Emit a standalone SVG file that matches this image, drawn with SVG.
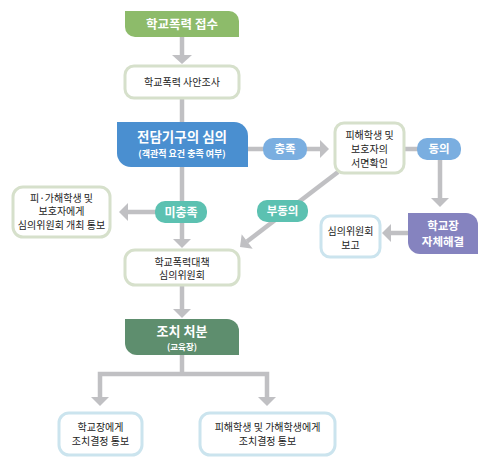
<svg xmlns="http://www.w3.org/2000/svg" width="490" height="469" viewBox="0 0 490 469">
<style>
text{font-family:"Noto Sans CJK KR","Noto Sans",sans-serif;text-anchor:middle}
.t{font-size:10px;fill:#222}
.h{font-weight:bold;fill:#fff}
.box{fill:#fff;stroke-width:3}
.g{stroke:#d6e0cb}
.b{stroke:#cbe4ee}
.ln{fill:none;stroke:#c0c0c3;stroke-width:4.5}
.ah{fill:#c0c0c3}
</style>
<g id="connectors">
<line class="ln" x1="182" y1="37" x2="182" y2="56"/>
<polygon class="ah" points="172,55 192,55 182,64"/>
<line class="ln" x1="182" y1="99" x2="182" y2="123"/>
<line class="ln" x1="182" y1="166" x2="182" y2="240"/>
<polygon class="ah" points="173,239 191,239 182,248"/>
<line class="ln" x1="160" y1="212" x2="127" y2="212"/>
<polygon class="ah" points="128,203 128,221 119,212"/>
<line class="ln" x1="247" y1="149" x2="321" y2="149"/>
<polygon class="ah" points="320,140 320,158 329,149"/>
<polyline class="ln" points="404,149 440,149 440,199"/>
<polygon class="ah" points="431,198 449,198 440,207"/>
<line class="ln" x1="409" y1="233" x2="390" y2="233"/>
<polygon class="ah" points="391,224 391,242 382,233"/>
<line class="ln" x1="338" y1="172" x2="247" y2="241.5"/>
<polygon class="ah" points="240,247 252.7,248.7 241.7,234.3"/>
<line class="ln" x1="182" y1="285" x2="182" y2="310"/>
<polygon class="ah" points="173,309 191,309 182,318"/>
<line class="ln" x1="182" y1="354" x2="182" y2="374"/>
<polyline class="ln" points="100,398 100,374 267,374 267,398"/>
<polygon class="ah" points="91,397 109,397 100,406"/>
<polygon class="ah" points="258,397 276,397 267,406"/>
</g>
<g id="n1">
<path d="M125,11 H229 A10,10 0 0 1 239,21 V37 H135 A10,10 0 0 1 125,27 Z" fill="#8dbb6a"/>
<text class="h" x="182" y="28.5" font-size="12.5">학교폭력 접수</text>
</g>
<g id="n2">
<rect class="box g" x="125" y="66" width="114" height="32" rx="9"/>
<text class="t" x="182" y="86">학교폭력 사안조사</text>
</g>
<g id="n3">
<path d="M117,122 H234 A14,14 0 0 1 248,136 V167 H131 A14,14 0 0 1 117,153 Z" fill="#4a8fd0"/>
<text class="h" x="182" y="142" font-size="13.5">전담기구의 심의</text>
<text class="h" x="182" y="157" font-size="9">(객관적 요건 충족 여부)</text>
</g>
<g id="p1">
<rect x="263" y="138" width="44" height="22" rx="10" fill="#7aaee0"/>
<text class="h" x="285" y="153" font-size="11.5">충족</text>
</g>
<g id="n4">
<rect class="box g" x="335" y="123" width="69" height="50" rx="9"/>
<text class="t" x="369.5" y="138.5">피해학생 및</text>
<text class="t" x="369.5" y="152.5">보호자의</text>
<text class="t" x="369.5" y="166.5">서면확인</text>
</g>
<g id="p2">
<rect x="417" y="138" width="44" height="22" rx="10" fill="#7aaee0"/>
<text class="h" x="439" y="153" font-size="11.5">동의</text>
</g>
<g id="n5">
<path d="M408,213 H466 A12,12 0 0 1 478,225 V254 H420 A12,12 0 0 1 408,242 Z" fill="#8583bf"/>
<text class="h" x="443" y="230" font-size="11.5">학교장</text>
<text class="h" x="443" y="246.3" font-size="11.5">자체해결</text>
</g>
<g id="n6">
<rect class="box b" x="321" y="216" width="59" height="41" rx="9"/>
<text class="t" x="350.5" y="235">심의위원회</text>
<text class="t" x="350.5" y="249">보고</text>
</g>
<g id="p3">
<rect x="257" y="200" width="51" height="22" rx="10" fill="#5cc1b1"/>
<text class="h" x="282.5" y="215" font-size="11.5">부동의</text>
</g>
<g id="p4">
<rect x="155" y="201" width="52" height="22" rx="10" fill="#5cc1b1"/>
<text class="h" x="181" y="216.5" font-size="12">미충족</text>
</g>
<g id="n7">
<rect class="box g" x="13" y="187" width="97" height="50" rx="10"/>
<text class="t" x="61.5" y="201.5" font-size="9">피·가해학생 및</text>
<text class="t" x="61.5" y="215.2" font-size="9">보호자에게</text>
<text class="t" x="61.5" y="228.9" font-size="9">심의위원회 개최 통보</text>
</g>
<g id="n8">
<rect class="box g" x="125" y="250" width="114" height="35" rx="10"/>
<text class="t" x="182" y="265.5">학교폭력대책</text>
<text class="t" x="182" y="279">심의위원회</text>
</g>
<g id="n9">
<path d="M125,319 H227 A12,12 0 0 1 239,331 V355 H137 A12,12 0 0 1 125,343 Z" fill="#5e8e6e"/>
<text class="h" x="182" y="336" font-size="13">조치 처분</text>
<text class="h" x="182" y="349.5" font-size="8.5">(교육장)</text>
</g>
<g id="n10">
<rect class="box b" x="59" y="413" width="83" height="42" rx="10"/>
<text class="t" x="100.5" y="431">학교장에게</text>
<text class="t" x="100.5" y="445">조치결정 통보</text>
</g>
<g id="n11">
<rect class="box b" x="200" y="413" width="135" height="42" rx="10"/>
<text class="t" x="267.5" y="431">피해학생 및 가해학생에게</text>
<text class="t" x="267.5" y="445">조치결정 통보</text>
</g>
</svg>
